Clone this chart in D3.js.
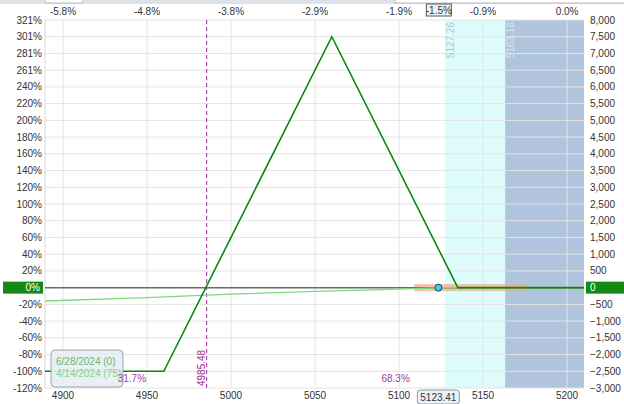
<!DOCTYPE html>
<html><head><meta charset="utf-8">
<script src="https://cdn.jsdelivr.net/npm/d3@7"></script>
<style>body{margin:0;background:#fff}svg{display:block;font-family:"Liberation Sans",Arial,sans-serif}</style>
</head><body><svg id="c" width="624" height="404"></svg>
<script>
// ---- data ----
const xTicks = [4900, 4950, 5000, 5050, 5100, 5150, 5200];
const topTickLabels = ["-5.8%", "-4.8%", "-3.8%", "-2.9%", "-1.9%", "-0.9%", "0.0%"];
const yTicks = [8000, 7500, 7000, 6500, 6000, 5500, 5000, 4500, 4000, 3500, 3000, 2500, 2000, 1500, 1000, 500, 0, -500, -1000, -1500, -2000, -2500, -3000];
const leftTickLabels = ["321%", "301%", "281%", "261%", "240%", "220%", "200%", "180%", "160%", "140%", "120%", "100%", "80%", "60%", "40%", "20%", "0%", "-20%", "-40%", "-60%", "-80%", "-100%", "-120%"];
const expiryPrices = [4889.3, 4960, 5060, 5135, 5210.1];
const expiryPL = [-2500, -2500, 7500, 0, 0];
const todayPrices = [4889.3, 4950, 5000, 5050, 5100, 5125, 5210.1];
const todayPL = [-400, -300, -195, -110, -45, 0, 0];
const currentPrice = 5123.41;
const currentPctLabel = "-1.5%";
const breakeven = 4985.48;
const sd1Low = 5127.26, sd1High = 5163.16;
const probLabels = ["31.7%", "68.3%"];
const probPositions = [4941, 5098];
const legendLabels = ["6/28/2024 (0)", "4/14/2024 (75)"];
const rangeBand = [5109, 5175];

// ---- layout ----
const L = 45, R = 584, T = 20, B = 388;
const svg = d3.select("#c");
const x = d3.scaleLinear().domain([4889.3, 5210.1]).range([L, R]);
const y = d3.scaleLinear().domain([-3000, 8000]).range([B, T]);

// top UI strip
svg.append("rect").attr("x",0).attr("y",0).attr("width",624).attr("height",4).attr("fill","#dde2e8");
svg.append("rect").attr("x",45).attr("y",-3).attr("width",38).attr("height",6).attr("rx",2).attr("fill","#fff").attr("stroke","#bbb");
svg.append("rect").attr("x",395).attr("y",-3).attr("width",235).attr("height",6).attr("fill","#fff").attr("stroke","#bbb");

// shaded zones
svg.append("rect").attr("x",x(sd1Low)).attr("y",T).attr("width",x(sd1High)-x(sd1Low)).attr("height",B-T).attr("fill","#dffcfc");
svg.append("rect").attr("x",x(sd1High)).attr("y",T).attr("width",R-x(sd1High)).attr("height",B-T).attr("fill","#b0c4de");

// grid
svg.append("g").selectAll("line").data(yTicks).join("line")
  .attr("x1",L).attr("x2",R).attr("y1",d=>y(d)).attr("y2",d=>y(d))
  .attr("stroke","#e4e4e4").attr("stroke-width",1);
svg.append("g").selectAll("line").data(xTicks).join("line")
  .attr("x1",d=>x(d)).attr("x2",d=>x(d)).attr("y1",T).attr("y2",B)
  .attr("stroke","#e4e4e4").attr("stroke-width",1);
svg.append("line").attr("x1",L).attr("x2",L).attr("y1",T).attr("y2",B).attr("stroke","#d8d8d8");

// vertical zone labels
[[sd1Low,"#a9c8da"],[sd1High,"#d8e4f2"]].forEach(([v,c])=>{
  svg.append("text").attr("transform",`translate(${x(v)+9},${T+2}) rotate(-90)`)
    .attr("text-anchor","end").attr("font-size",10).attr("fill",c).text(v.toFixed(2));
});

// axes text
const yIdx = yTicks.map((d,i)=>i).filter(i=>yTicks[i]!==0);
svg.append("g").selectAll("text").data(yIdx).join("text")
  .attr("x",42).attr("y",i=>y(yTicks[i])+3.5).attr("text-anchor","end").attr("font-size",10)
  .attr("fill","#333").text(i=>leftTickLabels[i]);
svg.append("g").selectAll("text").data(yIdx).join("text")
  .attr("x",590).attr("y",i=>y(yTicks[i])+3.5).attr("font-size",10)
  .attr("fill","#333").text(i=>d3.format(",")(yTicks[i]));
svg.append("g").selectAll("text").data(xTicks).join("text")
  .attr("x",d=>x(d)).attr("y",399).attr("text-anchor","middle").attr("font-size",10).attr("fill","#333").text(d=>d);
svg.append("g").selectAll("text").data(xTicks).join("text")
  .attr("x",d=>x(d)).attr("y",15).attr("text-anchor","middle").attr("font-size",10).attr("fill","#333").text((d,i)=>topTickLabels[i]);

// zero boxes
const zi = yTicks.indexOf(0);
svg.append("rect").attr("x",3).attr("y",y(0)-6).attr("width",40).attr("height",12).attr("fill","#138a13");
svg.append("rect").attr("x",586).attr("y",y(0)-6).attr("width",38).attr("height",12).attr("fill","#138a13");
svg.append("text").attr("x",40).attr("y",y(0)+3.5).attr("text-anchor","end").attr("font-size",10).attr("fill","#fff").text(leftTickLabels[zi]);
svg.append("text").attr("x",590).attr("y",y(0)+3.5).attr("font-size",10).attr("fill","#fff").text(d3.format(",")(yTicks[zi]));

// breakeven line
svg.append("line").attr("x1",x(breakeven)).attr("x2",x(breakeven)).attr("y1",T).attr("y2",B)
  .attr("stroke","#b04ab0").attr("stroke-width",1.2).attr("stroke-dasharray","4,3");
svg.append("text").attr("transform",`translate(${x(breakeven)-1.5},${B-2}) rotate(-90)`)
  .attr("font-size",10).attr("fill","#9a2a9a").text(breakeven.toFixed(2));

// range band
svg.append("rect").attr("x",x(rangeBand[0])).attr("y",y(0)-3.5).attr("width",x(rangeBand[1])-x(rangeBand[0])).attr("height",7)
  .attr("fill","#f4a880").attr("opacity",0.7);

// zero line
svg.append("line").attr("x1",L).attr("x2",R).attr("y1",y(0)).attr("y2",y(0)).attr("stroke","#6b6b6b").attr("stroke-width",1.5);

const line = d3.line().x(d=>x(d[0])).y(d=>y(d[1]));
svg.append("path").datum(todayPrices.map((p,i)=>[p,todayPL[i]])).attr("d",line)
  .attr("fill","none").attr("stroke","#7bdc7b").attr("stroke-width",1.3);
svg.append("path").datum(expiryPrices.map((p,i)=>[p,expiryPL[i]])).attr("d",line)
  .attr("fill","none").attr("stroke","#0a8a0a").attr("stroke-width",1.6);

// current price marker
svg.append("circle").attr("cx",x(currentPrice)).attr("cy",y(0)).attr("r",3.5).attr("fill","#22dde0").attr("stroke","#335").attr("stroke-width",1);

// legend
svg.append("rect").attr("x",51).attr("y",350).attr("width",72).attr("height",37).attr("rx",4)
  .attr("fill","#e6edf4").attr("fill-opacity",0.9).attr("stroke","#9aa4ae");
svg.append("text").attr("x",56).attr("y",365).attr("font-size",10).attr("fill","#6cb86c").text(legendLabels[0]);
svg.append("text").attr("x",56).attr("y",377).attr("font-size",10).attr("fill","#86d486").text(legendLabels[1]);

// prob labels
svg.append("g").selectAll("text").data(probLabels).join("text")
  .attr("x",(d,i)=>x(probPositions[i])).attr("y",382).attr("text-anchor","middle").attr("font-size",10).attr("fill","#a040a0").text(d=>d);

// current price boxes
svg.append("rect").attr("x",x(currentPrice)-21).attr("y",390).attr("width",42).attr("height",14).attr("rx",3)
  .attr("fill","#eef2f6").attr("stroke","#8a96a2");
svg.append("text").attr("x",x(currentPrice)).attr("y",401).attr("text-anchor","middle").attr("font-size",10).attr("fill","#333").text(currentPrice.toFixed(2));
svg.append("rect").attr("x",x(currentPrice)-12).attr("y",4).attr("width",25).attr("height",12)
  .attr("fill","#eef2f6").attr("stroke","#555");
svg.append("text").attr("x",x(currentPrice)+0.5).attr("y",14).attr("text-anchor","middle").attr("font-size",10).attr("fill","#333").text(currentPctLabel);
</script></body></html>
